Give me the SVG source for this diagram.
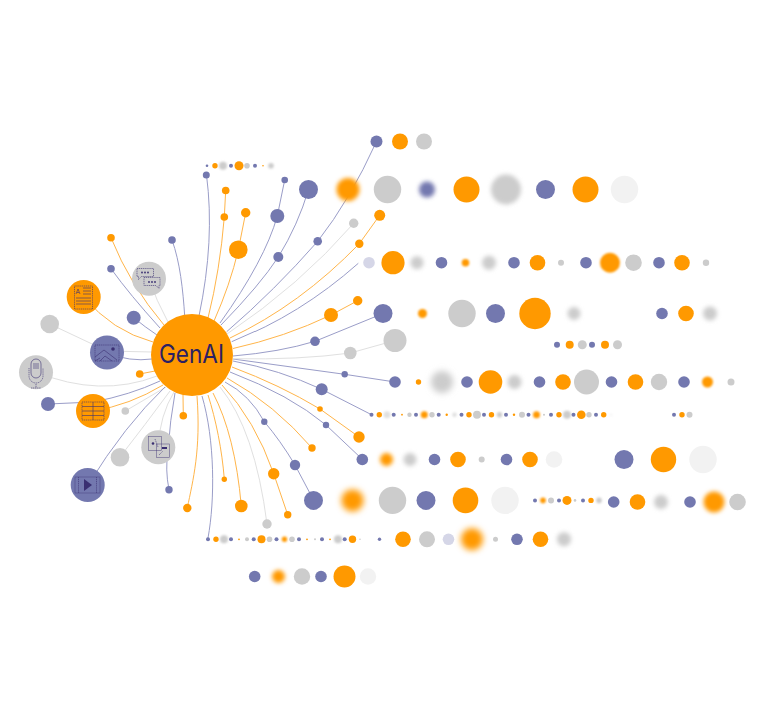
<svg xmlns="http://www.w3.org/2000/svg" width="765" height="720" viewBox="0 0 765 720">
<style>
.o{fill:#FF9900}.b{fill:#7378AF}.g{fill:#CCCCCC}.l{fill:#F2F2F2}.p{fill:#D5D6E7}
.s1{filter:url(#f1)}.s2{filter:url(#f2)}.s3{filter:url(#f3)}
#connectors path{fill:none;stroke-width:1}
.co{stroke:#FFB54A}.cb{stroke:#9A9DC8}.cg{stroke:#E0E0E0}
.i{fill:none;stroke:#3A2F72;stroke-width:.6;stroke-dasharray:1.2 .7}
.is{fill:none;stroke:#3A2F72;stroke-width:.6}
.id{fill:#3A2F72}
</style>
<defs>
<filter id="f1" x="-100%" y="-100%" width="300%" height="300%"><feGaussianBlur stdDeviation="1"/></filter>
<filter id="f2" x="-100%" y="-100%" width="300%" height="300%"><feGaussianBlur stdDeviation="2"/></filter>
<filter id="f3" x="-100%" y="-100%" width="300%" height="300%"><feGaussianBlur stdDeviation="3"/></filter>
</defs>
<rect width="765" height="720" fill="#FFFFFF"/>
<g id="connectors">
<path class="cb" d="M199 316Q215 240 206.5 175"/>
<path class="co" d="M208 318Q220 270 224.3 217L225.7 190.5"/>
<path class="co" d="M214 321Q230 285 238.3 250L245.7 212.7"/>
<path class="cb" d="M184.7 316C183 290 180 262 172 240"/>
<path class="cg" d="M149 279Q156 300 168 322"/>
<path class="co" d="M111 237.7Q130 285 164 325"/>
<path class="cb" d="M111 268.7Q130 295 160 328"/>
<path class="cb" d="M133.7 317.7Q145 327 157 335"/>
<path class="co" d="M84 297Q112 331 153 342"/>
<path class="cg" d="M49.7 324L107 351"/>
<path class="cg" d="M107 351L152 352"/>
<path class="cb" d="M107 353Q130 362 152 359"/>
<path class="cg" d="M36 372Q100 398 157 376"/>
<path class="co" d="M139.7 374L155 371"/>
<path class="cb" d="M48 404L93 402Q130 395 160 381"/>
<path class="co" d="M93 411Q130 405 163 385"/>
<path class="cg" d="M125.3 411L166 387"/>
<path class="cb" d="M88 485Q125 425 165 387"/>
<path class="cg" d="M120 457Q145 425 170 391"/>
<path class="cg" d="M158 447Q160 415 174 392"/>
<path class="cb" d="M169 489.7Q165 470 168 450Q170 420 175 393"/>
<path class="co" d="M183.3 415.7L183 395"/>
<path class="co" d="M187.3 508C193 480 201 450 197 396"/>
<path class="cb" d="M202 396C215 440 215 500 208 538"/>
<path class="co" d="M208 395C216 420 222 450 224.3 479"/>
<path class="co" d="M213 393Q235 435 241.3 506"/>
<path class="cg" d="M220 387Q255 430 267 524"/>
<path class="co" d="M222 385Q255 420 273.7 473.7L287.7 514.7"/>
<path class="cb" d="M225 382Q250 395 264.3 421.7Q280 440 295 465L313.5 500"/>
<path class="co" d="M227 378Q275 405 312 448"/>
<path class="cb" d="M230 372Q290 395 326 425L362 459"/>
<path class="co" d="M232 367Q280 385 320 409L359 437"/>
<path class="cb" d="M233 361Q280 370 321.7 389.3L371.5 414.7"/>
<path class="cb" d="M233 359L344.7 374.3L395 382"/>
<path class="cg" d="M233 358.7Q300 360 350.3 353L395 340.5"/>
<path class="cb" d="M233 356Q280 352 315 341.3L383 313.5"/>
<path class="co" d="M233 348.5Q285 337 331 315L357.7 300.7"/>
<path class="cb" d="M231.7 341.7Q300 315 358.3 263.3"/>
<path class="co" d="M230 338Q300 305 359.3 243.7L379.7 215.3"/>
<path class="cg" d="M227 334Q300 285 353.7 223.3"/>
<path class="cb" d="M226.7 331.7Q275 290 317.7 241.3Q350 200 376.5 141.5"/>
<path class="cb" d="M221 325Q260 285 278.3 257Q298 225 308.5 189.5"/>
<path class="cb" d="M220 323Q265 260 277.3 216L284.7 180"/>
</g>
<g id="hub"><circle class="o" cx="192" cy="355" r="41"/><text x="191.5" y="363" text-anchor="middle" font-family="Inter,'Liberation Sans',sans-serif" font-size="25" fill="#2C1F63" textLength="65" lengthAdjust="spacingAndGlyphs">GenAI</text></g>
<g id="chat"><circle class="g" cx="149" cy="278.7" r="17"/><path class="i" d="M137 268.5h16.5v8h-12l-3 3v-3h-1.500zM144 277.500h16v8h-1v3l-3-3h-12z"/><circle class="id" cx="142" cy="272.500" r=".9"/><circle class="id" cx="145" cy="272.500" r=".9"/><circle class="id" cx="148" cy="272.500" r=".9"/><circle class="id" cx="149" cy="282" r=".9"/><circle class="id" cx="152" cy="282" r=".9"/><circle class="id" cx="155" cy="282" r=".9"/></g>
<g id="doc"><circle class="o" cx="83.700" cy="297" r="17"/><rect class="i" x="74.500" y="286" width="18" height="23"/><path class="is" d="M83 288h8M83 291h8M83 294h8M76 298h15M76 301h15M76 304h15"/><path class="is" d="M76 294l2-5 2 5M77 292.500h2"/></g>
<g id="image"><circle class="b" cx="107" cy="352.500" r="17"/><rect class="i" x="95" y="345" width="24" height="16"/><path class="is" d="M95 357l9-7 13 10M95 361l5-3M100 361l5-5 7 5"/><circle class="id" cx="113" cy="349" r="1.800"/></g>
<g id="mic"><circle class="g" cx="36" cy="372.300" r="17"/><rect class="is" x="31" y="359" width="10" height="19" rx="5"/><path class="i" d="M29 368v8a7 7 0 0 0 14 0v-8M36 384v4M31 388h10"/><path class="is" d="M33 364h6M33 366h6M33 368h6"/></g>
<g id="table"><circle class="o" cx="93" cy="411" r="17"/><rect class="i" x="82" y="402" width="22" height="18"/><path class="is" d="M82 406.500h22M82 411h22M82 415.500h22M93 402v18"/></g>
<g id="video"><circle class="b" cx="87.700" cy="485" r="17"/><rect class="is" x="75" y="477" width="25" height="16" opacity=".6"/><path class="i" d="M78.500 477v16M96.500 477v16" stroke-width="1.500"/><path class="id" d="M84 479l8 6-8 6z"/></g>
<g id="translate"><circle class="g" cx="158.300" cy="447.300" r="17"/><rect class="is" x="148.500" y="436.500" width="13" height="14" stroke="#9A9DC8" opacity=".7"/><rect class="is" x="156.500" y="444" width="13" height="13.500" opacity=".7"/><circle class="id" cx="153" cy="443.500" r="1.300"/><path class="i" d="M155 439l3 8M159 455l4-4"/><path class="id" d="M162 447h5v2h-5z"/></g>
<g id="n1"><circle class="g" cx="49.700" cy="324" r="9.300"/></g>
<g id="n2"><circle class="b" cx="133.700" cy="317.700" r="7"/></g>
<g id="n3"><circle class="b" cx="111" cy="268.700" r="3.800"/></g>
<g id="n4"><circle class="o" cx="111" cy="237.700" r="3.800"/></g>
<g id="n5"><circle class="b" cx="172" cy="240" r="3.800"/></g>
<g id="n6"><circle class="b" cx="206.300" cy="175" r="3.500"/></g>
<g id="n7"><circle class="o" cx="225.700" cy="190.500" r="3.800"/></g>
<g id="n8"><circle class="o" cx="224.300" cy="217" r="3.800"/></g>
<g id="n9"><circle class="o" cx="245.700" cy="212.700" r="4.700"/></g>
<g id="n10"><circle class="o" cx="238.300" cy="249.700" r="9.300"/></g>
<g id="n11"><circle class="b" cx="48" cy="404" r="7"/></g>
<g id="n12"><circle class="o" cx="139.700" cy="374" r="3.800"/></g>
<g id="n13"><circle class="g" cx="125.300" cy="411" r="3.800"/></g>
<g id="n14"><circle class="o" cx="183.300" cy="415.700" r="3.800"/></g>
<g id="n15"><circle class="g" cx="120" cy="457.300" r="9.300"/></g>
<g id="n16"><circle class="b" cx="169" cy="489.700" r="3.700"/></g>
<g id="n17"><circle class="o" cx="187.300" cy="508" r="4.200"/></g>
<g id="n18"><circle class="o" cx="224.300" cy="479.300" r="2.700"/></g>
<g id="n19"><circle class="o" cx="241.300" cy="506" r="6.300"/></g>
<g id="n20"><circle class="g" cx="267" cy="524" r="4.700"/></g>
<g id="n21"><circle class="o" cx="287.700" cy="514.700" r="3.700"/></g>
<g id="n22"><circle class="o" cx="273.700" cy="473.700" r="5.700"/></g>
<g id="n23"><circle class="b" cx="295" cy="465" r="5.200"/></g>
<g id="n24"><circle class="b" cx="264.300" cy="421.700" r="3.200"/></g>
<g id="n25"><circle class="o" cx="312" cy="448" r="3.700"/></g>
<g id="n26"><circle class="b" cx="326" cy="425" r="3.200"/></g>
<g id="n27"><circle class="o" cx="359" cy="437" r="5.700"/></g>
<g id="n28"><circle class="o" cx="320" cy="409" r="2.800"/></g>
<g id="n29"><circle class="b" cx="321.700" cy="389.300" r="6"/></g>
<g id="n30"><circle class="b" cx="344.700" cy="374.300" r="3.200"/></g>
<g id="n31"><circle class="g" cx="350.300" cy="353" r="6.300"/></g>
<g id="n32"><circle class="b" cx="315" cy="341.300" r="4.800"/></g>
<g id="n33"><circle class="o" cx="331" cy="315" r="7"/></g>
<g id="n34"><circle class="o" cx="357.700" cy="300.700" r="4.700"/></g>
<g id="n35"><circle class="b" cx="278.300" cy="257" r="5"/></g>
<g id="n36"><circle class="b" cx="277.300" cy="216" r="7"/></g>
<g id="n37"><circle class="b" cx="284.700" cy="180" r="3.300"/></g>
<g id="n38"><circle class="b" cx="317.700" cy="241.300" r="4.300"/></g>
<g id="n39"><circle class="g" cx="353.700" cy="223.300" r="4.700"/></g>
<g id="n40"><circle class="o" cx="359.300" cy="243.700" r="4.200"/></g>
<g id="n41"><circle class="o" cx="379.700" cy="215.300" r="5.500"/></g>
<g id="t1"><circle class="b" cx="376.500" cy="141.500" r="6"/></g>
<g id="t2"><circle class="o" cx="400" cy="141.500" r="8"/></g>
<g id="t3"><circle class="g" cx="424" cy="141.500" r="8"/></g>
<g id="a1"><circle class="b" cx="207" cy="165.700" r="1.300"/></g>
<g id="a2"><circle class="o" cx="215" cy="165.700" r="2.700"/></g>
<g id="a3"><circle class="g s1" cx="223" cy="165.700" r="4"/></g>
<g id="a4"><circle class="b" cx="231" cy="165.700" r="2"/></g>
<g id="a5"><circle class="o" cx="239" cy="165.700" r="4.500"/></g>
<g id="a6"><circle class="g" cx="247" cy="165.700" r="2.800"/></g>
<g id="a7"><circle class="b" cx="255" cy="165.700" r="2"/></g>
<g id="a8"><circle class="o" cx="263" cy="165.700" r=".8"/></g>
<g id="a9"><circle class="g s1" cx="271" cy="165.700" r="2.800"/></g>
<g id="b1"><circle class="b" cx="308.500" cy="189.500" r="9.500"/></g>
<g id="b2"><circle class="o s2" cx="348" cy="189.500" r="11.500"/></g>
<g id="b3"><circle class="g" cx="387.500" cy="189.500" r="13.700"/></g>
<g id="b4"><circle class="b s2" cx="427" cy="189.500" r="8"/></g>
<g id="b5"><circle class="o" cx="466.500" cy="189.500" r="13"/></g>
<g id="b6"><circle class="g s2" cx="506" cy="189.500" r="15"/></g>
<g id="b7"><circle class="b" cx="545.500" cy="189.500" r="9.500"/></g>
<g id="b8"><circle class="o" cx="585.500" cy="189.500" r="13"/></g>
<g id="b9"><circle class="l" cx="624.500" cy="189.500" r="13.700"/></g>
<g id="c1"><circle class="p" cx="369" cy="262.700" r="5.800"/></g>
<g id="c2"><circle class="o" cx="393" cy="262.700" r="11.600"/></g>
<g id="c3"><circle class="g s2" cx="417" cy="262.700" r="6.500"/></g>
<g id="c4"><circle class="b" cx="441.500" cy="262.700" r="5.800"/></g>
<g id="c5"><circle class="o s1" cx="465.500" cy="262.700" r="3.800"/></g>
<g id="c6"><circle class="g s2" cx="489" cy="262.700" r="7"/></g>
<g id="c7"><circle class="b" cx="514" cy="262.700" r="5.800"/></g>
<g id="c8"><circle class="o" cx="537.500" cy="262.700" r="7.800"/></g>
<g id="c9"><circle class="g" cx="561" cy="262.700" r="3"/></g>
<g id="c10"><circle class="b" cx="586" cy="262.700" r="5.800"/></g>
<g id="c11"><circle class="o s1" cx="610" cy="262.700" r="10"/></g>
<g id="c12"><circle class="g" cx="633.500" cy="262.700" r="8.300"/></g>
<g id="c13"><circle class="b" cx="659" cy="262.700" r="5.800"/></g>
<g id="c14"><circle class="o" cx="682" cy="262.700" r="7.800"/></g>
<g id="c15"><circle class="g" cx="706" cy="262.700" r="3.200"/></g>
<g id="d1"><circle class="b" cx="383" cy="313.500" r="9.500"/></g>
<g id="d2"><circle class="o s1" cx="422.500" cy="313.500" r="4.500"/></g>
<g id="d3"><circle class="g" cx="462" cy="313.500" r="13.700"/></g>
<g id="d4"><circle class="b" cx="495.500" cy="313.500" r="9.500"/></g>
<g id="d5"><circle class="o" cx="535" cy="313.500" r="15.700"/></g>
<g id="d6"><circle class="g s2" cx="574" cy="313.500" r="6.500"/></g>
<g id="d7"><circle class="b" cx="662" cy="313.500" r="5.800"/></g>
<g id="d8"><circle class="o" cx="686" cy="313.500" r="7.800"/></g>
<g id="d9"><circle class="g s2" cx="710" cy="313.500" r="7"/></g>
<g id="e0"><circle class="g" cx="395" cy="340.500" r="11.500"/></g>
<g id="e1"><circle class="b" cx="557" cy="344.700" r="3"/></g>
<g id="e2"><circle class="o" cx="569.700" cy="344.700" r="4"/></g>
<g id="e3"><circle class="g" cx="582.300" cy="344.700" r="4.500"/></g>
<g id="e4"><circle class="b" cx="592" cy="344.700" r="3"/></g>
<g id="e5"><circle class="o" cx="605" cy="344.700" r="4"/></g>
<g id="e6"><circle class="g" cx="617.500" cy="344.700" r="4.500"/></g>
<g id="f1n"><circle class="b" cx="395" cy="382" r="5.800"/></g>
<g id="f2n"><circle class="o" cx="418.500" cy="382" r="2.700"/></g>
<g id="f3n"><circle class="g s3" cx="442" cy="382" r="11"/></g>
<g id="f4n"><circle class="b" cx="467" cy="382" r="5.800"/></g>
<g id="f5n"><circle class="o" cx="490.500" cy="382" r="11.800"/></g>
<g id="f6n"><circle class="g s2" cx="514.500" cy="382" r="7"/></g>
<g id="f7n"><circle class="b" cx="539.500" cy="382" r="5.800"/></g>
<g id="f8n"><circle class="o" cx="563" cy="382" r="7.800"/></g>
<g id="f9n"><circle class="g" cx="586.500" cy="382" r="12.500"/></g>
<g id="f10n"><circle class="b" cx="611.500" cy="382" r="5.800"/></g>
<g id="f11n"><circle class="o" cx="635.500" cy="382" r="7.800"/></g>
<g id="f12n"><circle class="g" cx="659" cy="382" r="8.200"/></g>
<g id="f13n"><circle class="b" cx="684" cy="382" r="5.800"/></g>
<g id="f14n"><circle class="o s1" cx="707.500" cy="382" r="5.500"/></g>
<g id="f15n"><circle class="g" cx="731" cy="382" r="3.500"/></g>
<g id="h1"><circle class="b" cx="371.500" cy="414.700" r="2"/></g>
<g id="h2"><circle class="o" cx="379.300" cy="414.700" r="2.700"/></g>
<g id="h3"><circle class="g s1" cx="387" cy="414.700" r="3.500" opacity=".6"/></g>
<g id="h4"><circle class="b" cx="393.700" cy="414.700" r="2"/></g>
<g id="h5"><circle class="o" cx="402" cy="414.700" r=".9"/></g>
<g id="h6"><circle class="g" cx="409.500" cy="414.700" r="2.200"/></g>
<g id="h7"><circle class="b" cx="416" cy="414.700" r="2"/></g>
<g id="h8"><circle class="o s1" cx="424.300" cy="414.700" r="3.500"/></g>
<g id="h9"><circle class="g" cx="432" cy="414.700" r="2.700"/></g>
<g id="h10"><circle class="b" cx="438.700" cy="414.700" r="2"/></g>
<g id="h11"><circle class="o" cx="446.700" cy="414.700" r="1.200"/></g>
<g id="h12"><circle class="g s1" cx="454.500" cy="414.700" r="2.300" opacity=".6"/></g>
<g id="h13"><circle class="b" cx="461.500" cy="414.700" r="2"/></g>
<g id="h14"><circle class="o" cx="469" cy="414.700" r="2.700"/></g>
<g id="h15"><circle class="g" cx="477" cy="414.700" r="4"/></g>
<g id="h16"><circle class="b" cx="484" cy="414.700" r="2"/></g>
<g id="h17"><circle class="o" cx="491.500" cy="414.700" r="2.700"/></g>
<g id="h18"><circle class="g s1" cx="499.500" cy="414.700" r="2.700"/></g>
<g id="h19"><circle class="b" cx="506" cy="414.700" r="2"/></g>
<g id="h20"><circle class="o" cx="514" cy="414.700" r="1.200"/></g>
<g id="h21"><circle class="g" cx="522" cy="414.700" r="3"/></g>
<g id="h22"><circle class="b" cx="528.500" cy="414.700" r="2"/></g>
<g id="h23"><circle class="o s1" cx="536.500" cy="414.700" r="3.500"/></g>
<g id="h24"><circle class="g" cx="544" cy="414.700" r="1"/></g>
<g id="h25"><circle class="b" cx="551" cy="414.700" r="2"/></g>
<g id="h26"><circle class="o" cx="559" cy="414.700" r="2.700"/></g>
<g id="h27"><circle class="g s1" cx="567" cy="414.700" r="4"/></g>
<g id="h28"><circle class="b" cx="573.500" cy="414.700" r="2"/></g>
<g id="h29"><circle class="o" cx="581.300" cy="414.700" r="4.300"/></g>
<g id="h30"><circle class="g" cx="589" cy="414.700" r="2.700"/></g>
<g id="h31"><circle class="b" cx="596" cy="414.700" r="2"/></g>
<g id="h32"><circle class="o" cx="603.700" cy="414.700" r="2.700"/></g>
<g id="h33"><circle class="g s1" cx="611" cy="414.700" r=".8" opacity=".6"/></g>
<g id="h34"><circle class="b" cx="674" cy="414.700" r="2"/></g>
<g id="h35"><circle class="o" cx="682" cy="414.700" r="2.700"/></g>
<g id="h36"><circle class="g" cx="689.500" cy="414.700" r="3"/></g>
<g id="j1"><circle class="b" cx="362.300" cy="459.500" r="5.800"/></g>
<g id="j2"><circle class="o s2" cx="386.500" cy="459.500" r="6.500"/></g>
<g id="j3"><circle class="g s2" cx="410" cy="459.500" r="6.500"/></g>
<g id="j4"><circle class="b" cx="434.500" cy="459.500" r="5.800"/></g>
<g id="j5"><circle class="o" cx="458" cy="459.500" r="7.800"/></g>
<g id="j6"><circle class="g" cx="481.700" cy="459.500" r="3"/></g>
<g id="j7"><circle class="b" cx="506.500" cy="459.500" r="5.800"/></g>
<g id="j8"><circle class="o" cx="530" cy="459.500" r="7.800"/></g>
<g id="j9"><circle class="l" cx="554" cy="459.500" r="8.300"/></g>
<g id="j10"><circle class="b" cx="624" cy="459.500" r="9.500"/></g>
<g id="j11"><circle class="o" cx="663.500" cy="459.500" r="12.700"/></g>
<g id="j12"><circle class="l" cx="703" cy="459.500" r="13.700"/></g>
<g id="k1"><circle class="b" cx="313.500" cy="500.400" r="9.500"/></g>
<g id="k2"><circle class="o s3" cx="352.500" cy="500.400" r="11"/></g>
<g id="k3"><circle class="g" cx="392.500" cy="500.400" r="13.700"/></g>
<g id="k4"><circle class="b" cx="426" cy="500.400" r="9.500"/></g>
<g id="k5"><circle class="o" cx="465.500" cy="500.400" r="12.800"/></g>
<g id="k6"><circle class="l" cx="505" cy="500.400" r="13.700"/></g>
<g id="k7"><circle class="b" cx="535" cy="500.400" r="2"/></g>
<g id="k8"><circle class="o s1" cx="543" cy="500.400" r="2.800"/></g>
<g id="k9"><circle class="g" cx="551" cy="500.400" r="3"/></g>
<g id="k10"><circle class="b" cx="559" cy="500.400" r="2"/></g>
<g id="k11"><circle class="o" cx="567" cy="500.400" r="4.500"/></g>
<g id="k12"><circle class="g" cx="575" cy="500.400" r="1.300"/></g>
<g id="k13"><circle class="b" cx="583" cy="500.400" r="2"/></g>
<g id="k14"><circle class="o" cx="591" cy="500.400" r="2.700"/></g>
<g id="k15"><circle class="g s1" cx="599" cy="500.400" r="2.800"/></g>
<g id="k16"><circle class="b" cx="613.700" cy="502" r="5.800"/></g>
<g id="k17"><circle class="o" cx="637.500" cy="502" r="7.800"/></g>
<g id="k18"><circle class="g s2" cx="661" cy="502" r="7"/></g>
<g id="k19"><circle class="b" cx="690" cy="502" r="5.800"/></g>
<g id="k20"><circle class="o s2" cx="714" cy="502" r="10.500"/></g>
<g id="k21"><circle class="g" cx="737.500" cy="502" r="8.300"/></g>
<g id="m1"><circle class="b" cx="208" cy="539.300" r="2"/></g>
<g id="m2"><circle class="o" cx="216" cy="539.300" r="2.700"/></g>
<g id="m3"><circle class="g s1" cx="224" cy="539.300" r="4"/></g>
<g id="m4"><circle class="b" cx="231" cy="539.300" r="2"/></g>
<g id="m5"><circle class="o" cx="239" cy="539.300" r=".9"/></g>
<g id="m6"><circle class="g" cx="247" cy="539.300" r="2"/></g>
<g id="m7"><circle class="b" cx="253.700" cy="539.300" r="2"/></g>
<g id="m8"><circle class="o" cx="261.500" cy="539.300" r="4"/></g>
<g id="m9"><circle class="g" cx="269.500" cy="539.300" r="2.800"/></g>
<g id="m10"><circle class="b" cx="276.500" cy="539.300" r="2"/></g>
<g id="m11"><circle class="o s1" cx="284.500" cy="539.300" r="2.700"/></g>
<g id="m12"><circle class="g" cx="292" cy="539.300" r="2.800"/></g>
<g id="m13"><circle class="b" cx="299" cy="539.300" r="2"/></g>
<g id="m14"><circle class="o" cx="307" cy="539.300" r=".9"/></g>
<g id="m15"><circle class="g" cx="315" cy="539.300" r="1"/></g>
<g id="m16"><circle class="b" cx="322" cy="539.300" r="2"/></g>
<g id="m17"><circle class="o" cx="330" cy="539.300" r=".9"/></g>
<g id="m18"><circle class="g s1" cx="338" cy="539.300" r="4"/></g>
<g id="m19"><circle class="b" cx="344.700" cy="539.300" r="2"/></g>
<g id="m20"><circle class="o" cx="352.500" cy="539.300" r="3.700"/></g>
<g id="m21"><circle class="g" cx="360" cy="539.300" r=".8"/></g>
<g id="m22"><circle class="b" cx="379.500" cy="539.300" r="1.700"/></g>
<g id="m23"><circle class="o" cx="403" cy="539.300" r="7.800"/></g>
<g id="m24"><circle class="g" cx="427" cy="539.300" r="8"/></g>
<g id="m25"><circle class="p" cx="448.500" cy="539.300" r="5.800"/></g>
<g id="m26"><circle class="o s3" cx="472" cy="539.300" r="11"/></g>
<g id="m27"><circle class="g" cx="495.500" cy="539.300" r="2.500"/></g>
<g id="m28"><circle class="b" cx="517" cy="539.300" r="5.800"/></g>
<g id="m29"><circle class="o" cx="540.500" cy="539.300" r="7.800"/></g>
<g id="m30"><circle class="g s2" cx="564" cy="539.300" r="7"/></g>
<g id="q1"><circle class="b" cx="254.700" cy="576.500" r="5.800"/></g>
<g id="q2"><circle class="o s2" cx="278.500" cy="576.500" r="6.500"/></g>
<g id="q3"><circle class="g" cx="302" cy="576.500" r="8.200"/></g>
<g id="q4"><circle class="b" cx="321" cy="576.500" r="5.800"/></g>
<g id="q5"><circle class="o" cx="344.500" cy="576.500" r="11"/></g>
<g id="q6"><circle class="l" cx="368" cy="576.500" r="8.200"/></g>
</svg>
